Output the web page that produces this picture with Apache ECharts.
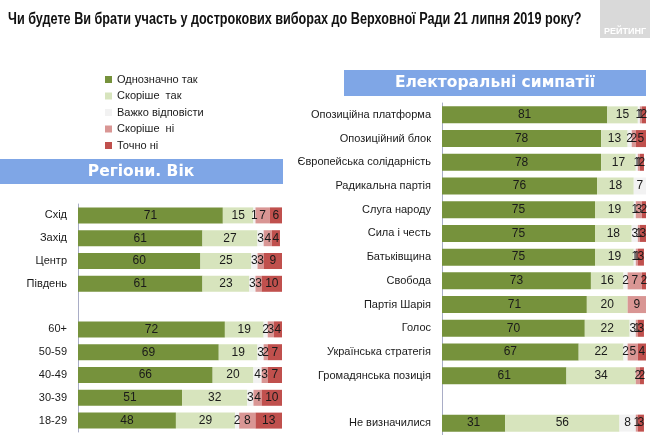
<!DOCTYPE html>
<html>
<head>
<meta charset="utf-8">
<script src="https://cdn.jsdelivr.net/npm/echarts@6/dist/echarts.min.js"></script>
<style>
  html, body { margin: 0; padding: 0; background: #fff; }
  #chart { width: 650px; height: 435px; }
</style>
</head>
<body>
<div id="chart"></div>
<script>
const answers = ['Однозначно так', 'Скоріше  так', 'Важко відповісти', 'Скоріше  ні', 'Точно ні']
const colors = ['#76923c', '#d7e4bd', '#f2f2f2', '#d99694', '#c0504d']

// left panel: regions and age groups ('' = spacer row)
const groups = ['Схід', 'Захід', 'Центр', 'Південь', '', '60+', '50-59', '40-49', '30-39', '18-29']
const groupSure = [71, 61, 60, 61, null, 72, 69, 66, 51, 48]
const groupRather = [15, 27, 25, 23, null, 19, 19, 20, 32, 29]
const groupHard = [1, 3, 3, 3, null, 2, 3, 4, 3, 2]
const groupRatherNo = [7, 4, 3, 3, null, 3, 2, 3, 4, 8]
const groupNo = [6, 4, 9, 10, null, 4, 7, 7, 10, 13]

// right panel: party sympathies
const parties = ['Опозиційна платформа', 'Опозиційний блок', 'Європейська солідарність', 'Радикальна партія',
  'Слуга народу', 'Сила і честь', 'Батьківщина', 'Свобода', 'Партія Шарія', 'Голос',
  'Українська стратегія', 'Громадянська позиція', ' ', 'Не визначилися']
const partySure = [81, 78, 78, 76, 75, 75, 75, 73, 71, 70, 67, 61, null, 31]
const partyRather = [15, 13, 17, 18, 19, 18, 19, 16, 20, 22, 22, 34, null, 56]
const partyHard = [1, 2, 1, 7, 1, 3, 1, 2, 0, 3, 2, 0, null, 8]
const partyRatherNo = [1, 2, 1, 0, 3, 1, 1, 7, 9, 1, 5, 2, null, 1]
const partyNo = [2, 5, 2, 0, 2, 3, 3, 2, 0, 3, 4, 2, null, 3]

const groupData = [groupSure, groupRather, groupHard, groupRatherNo, groupNo]
const partyData = [partySure, partyRather, partyHard, partyRatherNo, partyNo]

const font = '"Liberation Sans", Arial, sans-serif'
const heavy = '900 15.5px "DejaVu Sans", sans-serif'

const chart = echarts.init(document.getElementById('chart'))

const makeSeries = (data, idx, stack, barWidth) => data.map((vals, i) => ({
  name: answers[i],
  type: 'bar',
  stack: stack,
  xAxisIndex: idx,
  yAxisIndex: idx,
  barWidth: barWidth,
  data: vals,
  itemStyle: { color: colors[i] },
  label: {
    show: true,
    position: 'inside',
    color: '#1a1a1a',
    fontSize: 12,
    fontFamily: font,
    formatter: p => (p.value ? p.value : '')
  }
}))

const yAxisBase = {
  type: 'category',
  inverse: true,
  axisLine: { lineStyle: { color: '#a9adc6' } },
  axisTick: { lineStyle: { color: '#a9adc6' }, length: 3 },
  axisLabel: { color: '#1a1a1a', fontSize: 11, fontFamily: font, margin: 11 }
}

const option = {
  animation: false,
  legend: {
    orient: 'vertical',
    left: 100,
    top: 69,
    itemWidth: 7,
    itemHeight: 7,
    itemGap: 5.5,
    icon: 'rect',
    data: answers,
    textStyle: { fontSize: 11, color: '#1a1a1a', fontFamily: font }
  },
  grid: [
    { left: 78, top: 204, width: 204, height: 228 },
    { left: 442, top: 103, width: 204, height: 334 }
  ],
  xAxis: [
    { type: 'value', gridIndex: 0, min: 0, max: 100, show: false },
    { type: 'value', gridIndex: 1, min: 0, max: 100, show: false }
  ],
  yAxis: [
    Object.assign({ gridIndex: 0, data: groups }, yAxisBase),
    Object.assign({ gridIndex: 1, data: parties }, yAxisBase)
  ],
  graphic: [
    {
      type: 'text', x: 8, y: 20, scaleX: 0.79,
      style: {
        text: 'Чи будете Ви брати участь у дострокових виборах до Верховної Ради 21 липня 2019 року?',
        fill: '#111', font: 'bold 16px ' + font, verticalAlign: 'middle'
      }
    },
    { type: 'rect', shape: { x: 0, y: 159, width: 283, height: 25 }, style: { fill: '#7fa6e6' } },
    { type: 'text', x: 141, y: 172, style: { text: 'Регіони. Вік', fill: '#fff', font: heavy, align: 'center', verticalAlign: 'middle' } },
    { type: 'rect', shape: { x: 344, y: 70, width: 302, height: 26 }, style: { fill: '#7fa6e6' } },
    { type: 'text', x: 495, y: 83, style: { text: 'Електоральні симпатії', fill: '#fff', font: heavy, align: 'center', verticalAlign: 'middle' } },
    { type: 'rect', shape: { x: 600, y: 0, width: 50, height: 38 }, style: { fill: '#d9d9d9' } },
    { type: 'text', x: 625, y: 32, style: { text: 'РЕЙТИНГ', fill: '#fff', font: 'bold 9px ' + font, align: 'center', verticalAlign: 'middle' } }
  ],
  series: makeSeries(groupData, 0, 'groups', 16).concat(makeSeries(partyData, 1, 'parties', 17))
}

chart.setOption(option)
</script>
</body>
</html>
